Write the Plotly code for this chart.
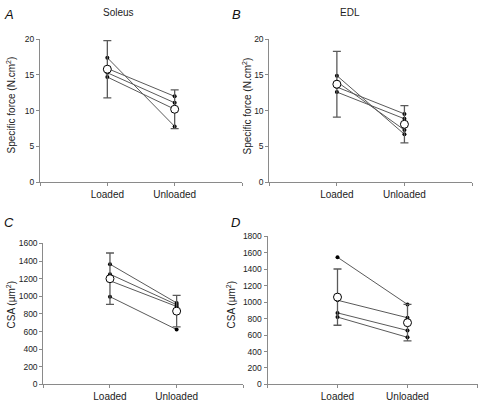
import plotly.graph_objects as go

conditions = ["Loaded", "Unloaded"]

# Panel A: Soleus specific force (N.cm2), individual animals
soleus_force_loaded = [17.4, 15.9, 15.3, 14.7]
soleus_force_unloaded = [7.8, 12.0, 11.1, 10.2]
soleus_force_mean = [15.8, 10.2]
soleus_force_sd = [4.0, 2.7]

# Panel B: EDL specific force
edl_force_loaded = [14.9, 14.05, 13.3, 12.6]
edl_force_unloaded = [6.7, 7.3, 9.55, 8.87]
edl_force_mean = [13.7, 8.1]
edl_force_sd = [4.6, 2.6]

# Panel C: Soleus CSA (um2)
soleus_csa_loaded = [1365, 1251, 1177, 996]
soleus_csa_unloaded = [925, 905, 885, 623]
soleus_csa_mean = [1200, 832]
soleus_csa_sd = [292, 179]

# Panel D: EDL CSA
edl_csa_loaded = [1547, 1024, 870, 819]
edl_csa_unloaded = [973, 811, 656, 573]
edl_csa_mean = [1062, 751]
edl_csa_sd = [342, 222]

FONT = "Liberation Sans, Arial, sans-serif"
LINE_COL = "#5a5a5a"
AXIS_COL = "#8a8a8a"

fig = go.Figure()

panels = [
    ("x", "y", soleus_force_loaded, soleus_force_unloaded, soleus_force_mean, soleus_force_sd),
    ("x2", "y2", edl_force_loaded, edl_force_unloaded, edl_force_mean, edl_force_sd),
    ("x3", "y3", soleus_csa_loaded, soleus_csa_unloaded, soleus_csa_mean, soleus_csa_sd),
    ("x4", "y4", edl_csa_loaded, edl_csa_unloaded, edl_csa_mean, edl_csa_sd),
]

xpos = [1, 2]
for xa, ya, lo, un, mean, sd in panels:
    for a, b in zip(lo, un):
        fig.add_trace(go.Scatter(
            x=xpos, y=[a, b], xaxis=xa, yaxis=ya, mode="lines+markers",
            line=dict(color=LINE_COL, width=1),
            marker=dict(color="black", size=4),
            showlegend=False, hoverinfo="skip"))
    fig.add_trace(go.Scatter(
        x=xpos, y=mean, xaxis=xa, yaxis=ya, mode="markers",
        marker=dict(color="white", size=8, line=dict(color="black", width=1)),
        error_y=dict(type="data", array=sd, visible=True, color=LINE_COL,
                     thickness=1.3, width=4),
        showlegend=False))

xdom = {"x": [40/480, 242/480], "x2": [269.3/480, 472/480],
        "x3": [43.3/480, 243.3/480], "x4": [267.5/480, 477.5/480]}
ydom = {"y": [1-181.7/406, 1-35/406], "y2": [1-181.7/406, 1-35/406],
        "y3": [1-389/406, 1-244.5/406], "y4": [1-389/406, 1-237.3/406]}
yranges = {"y": [0, 20], "y2": [0, 20], "y3": [0, 1600], "y4": [0, 1800]}
ydtick = {"y": 5, "y2": 5, "y3": 200, "y4": 200}

layout = dict(
    width=480, height=406, margin=dict(l=0, r=0, t=0, b=0),
    paper_bgcolor="white", plot_bgcolor="white",
    font=dict(family=FONT, size=10, color="#222"),
)

for i, (xa, ya) in enumerate(zip(["x", "x2", "x3", "x4"], ["y", "y2", "y3", "y4"])):
    xkey = "xaxis" if xa == "x" else "xaxis" + xa[1:]
    ykey = "yaxis" if ya == "y" else "yaxis" + ya[1:]
    layout[xkey] = dict(
        domain=xdom[xa], range=[0, 3], anchor=ya,
        tickmode="array", tickvals=[1, 2], ticktext=conditions,
        ticks="outside", ticklen=3, tickcolor=AXIS_COL,
        minor=dict(ticks="outside", tick0=0, dtick=1, ticklen=3,
                   tickcolor=AXIS_COL, showgrid=False),
        showline=True, linecolor=AXIS_COL, linewidth=1,
        showgrid=False, zeroline=False, fixedrange=True,
        tickfont=dict(size=10, family=FONT, color="#222"))
    layout[ykey] = dict(
        domain=ydom[ya], range=yranges[ya], anchor=xa,
        dtick=ydtick[ya], tick0=0,
        ticks="outside", ticklen=3, tickcolor=AXIS_COL,
        showline=True, linecolor=AXIS_COL, linewidth=1,
        showgrid=False, zeroline=False, fixedrange=True,
        tickfont=dict(size=8.5, family=FONT, color="#222"))

fig.update_layout(**layout)

ann = [
    dict(text="<i>A</i>", x=2, y=10, size=13),
    dict(text="<i>B</i>", x=230, y=10, size=13),
    dict(text="<i>C</i>", x=2, y=223, size=13),
    dict(text="<i>D</i>", x=229, y=223, size=13),
]
for a in ann:
    fig.add_annotation(text=a["text"], x=a["x"]/480, y=1-a["y"]/406,
                       xref="paper", yref="paper", xanchor="left", yanchor="middle",
                       showarrow=False, font=dict(size=a["size"], family=FONT, color="#111"))

for txt, x, y in [("Soleus", 118, 8), ("EDL", 350, 8)]:
    fig.add_annotation(text=txt, x=x/480, y=1-y/406, xref="paper", yref="paper",
                       xanchor="center", yanchor="middle", showarrow=False,
                       font=dict(size=10, family=FONT, color="#222"))

for txt, x, y in [("Specific force (N.cm<sup>2</sup>)", 11, 103),
                  ("Specific force (N.cm<sup>2</sup>)", 247, 103),
                  ("CSA (µm<sup>2</sup>)", 11, 308),
                  ("CSA (µm<sup>2</sup>)", 231, 308)]:
    fig.add_annotation(text=txt, x=x/480, y=1-y/406, xref="paper", yref="paper",
                       xanchor="center", yanchor="middle", textangle=-90, showarrow=False,
                       font=dict(size=10, family=FONT, color="#222"))

fig.write_html("out.html", config={"displayModeBar": False},
               post_script="document.body.style.margin='0';")
